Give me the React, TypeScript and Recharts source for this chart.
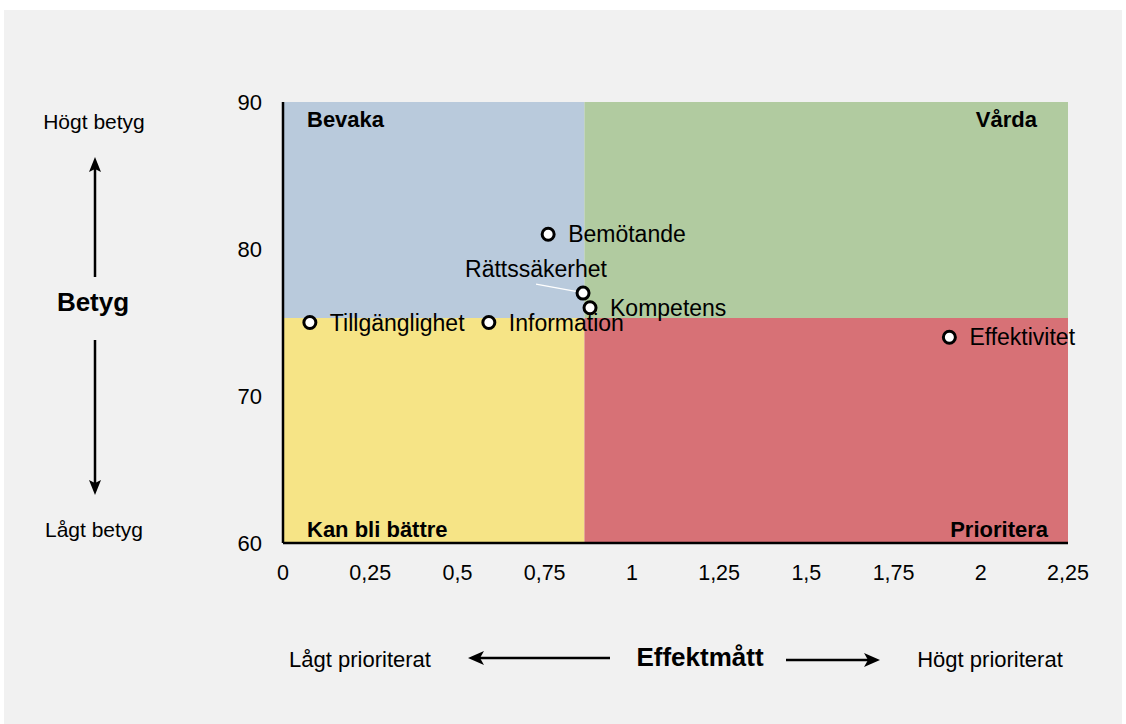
import React from 'react';
import {
  ScatterChart,
  Scatter,
  XAxis,
  YAxis,
  ReferenceArea,
} from 'recharts';

// Points: effect measure (x) vs grade (y)
const pointNames = ['Bemötande', 'Rättssäkerhet', 'Kompetens', 'Tillgänglighet', 'Information', 'Effektivitet'];
const effektValues = [0.76, 0.86, 0.88, 0.077, 0.59, 1.91];
const betygValues = [81, 77, 76, 75, 75, 74];

const xTicks = [0, 0.25, 0.5, 0.75, 1, 1.25, 1.5, 1.75, 2, 2.25];
const yTicks = [60, 70, 80, 90];

// quadrant split
const xSplit = 0.864;
const ySplit = 75.3;
const quadrantNames = ['Bevaka', 'Vårda', 'Kan bli bättre', 'Prioritera'];

const FONT = '"Liberation Sans", Arial, Helvetica, sans-serif';

const data = pointNames.map((name, i) => ({
  name,
  effekt: effektValues[i],
  betyg: betygValues[i],
}));

function QuadrantLabel(props: any) {
  const { viewBox, text, corner } = props;
  if (!viewBox) return null;
  const { x, y, width, height } = viewBox;
  let tx = x + 24;
  let ty = y + 25;
  let anchor: 'start' | 'end' = 'start';
  if (corner === 'tr') {
    tx = x + width - 31;
    anchor = 'end';
  } else if (corner === 'bl') {
    ty = y + height - 6;
  } else if (corner === 'br') {
    tx = x + width - 20;
    ty = y + height - 6;
    anchor = 'end';
  }
  return (
    <text x={tx} y={ty} textAnchor={anchor} fontFamily={FONT} fontSize={22} fontWeight="bold" fill="#000">
      {text}
    </text>
  );
}

function renderPoint(props: any) {
  const { cx, cy, payload } = props;
  const name = payload.name;
  return (
    <g>
      {name === 'Rättssäkerhet' ? (
        <g>
          <line x1={cx - 47} y1={cy - 9} x2={cx - 6} y2={cy - 1.5} stroke="#fff" strokeWidth={1.2} />
          <text x={cx - 47} y={cy - 24} dy="0.35em" textAnchor="middle" fontFamily={FONT} fontSize={23} fill="#000">
            {name}
          </text>
        </g>
      ) : (
        <text x={cx + 20} y={cy} dy="0.35em" fontFamily={FONT} fontSize={23} fill="#000">
          {name}
        </text>
      )}
      <circle cx={cx} cy={cy} r={6} fill="#fff" stroke="#000" strokeWidth={3} />
    </g>
  );
}

const fmt = (v: number) => String(v).replace('.', ',');

export default function App() {
  return (
    <div style={{ position: 'absolute', left: 0, top: 0, width: 1126, height: 724, background: '#fff', fontFamily: FONT }}>
      <div style={{ position: 'absolute', left: 4, top: 10, width: 1118, height: 714, background: '#f1f1f1' }} />
      <div style={{ position: 'absolute', left: 0, top: 0 }}>
        <ScatterChart width={1126} height={724} margin={{ top: 102, right: 58, left: 223, bottom: 151 }}>
          <XAxis
            type="number"
            dataKey="effekt"
            domain={[0, 2.25]}
            ticks={xTicks}
            tickFormatter={fmt}
            height={30}
            tickLine={false}
            tickSize={0}
            tickMargin={22}
            axisLine={{ stroke: '#000', strokeWidth: 2.5 }}
            tick={{ fill: '#000', fontSize: 21.5, fontFamily: FONT }}
          />
          <YAxis
            type="number"
            dataKey="betyg"
            domain={[60, 90]}
            ticks={yTicks}
            width={60}
            tickLine={false}
            tickSize={0}
            tickMargin={21}
            axisLine={{ stroke: '#000', strokeWidth: 2.5 }}
            tick={{ fill: '#000', fontSize: 22, fontFamily: FONT }}
          />
          <ReferenceArea x1={0} x2={xSplit} y1={ySplit} y2={90} fill="#b9cadc" fillOpacity={1} stroke="none"
            label={<QuadrantLabel text={quadrantNames[0]} corner="tl" />} />
          <ReferenceArea x1={xSplit} x2={2.25} y1={ySplit} y2={90} fill="#b1cba0" fillOpacity={1} stroke="none"
            label={<QuadrantLabel text={quadrantNames[1]} corner="tr" />} />
          <ReferenceArea x1={0} x2={xSplit} y1={60} y2={ySplit} fill="#f6e486" fillOpacity={1} stroke="none"
            label={<QuadrantLabel text={quadrantNames[2]} corner="bl" />} />
          <ReferenceArea x1={xSplit} x2={2.25} y1={60} y2={ySplit} fill="#d77176" fillOpacity={1} stroke="none"
            label={<QuadrantLabel text={quadrantNames[3]} corner="br" />} />
          <Scatter data={data} shape={renderPoint} isAnimationActive={false} />
        </ScatterChart>
      </div>
      <svg width={1126} height={724} style={{ position: 'absolute', left: 0, top: 0, pointerEvents: 'none' }}>
        {/* vertical guide: Betyg */}
        <text x={94} y={129} textAnchor="middle" fontFamily={FONT} fontSize={21} fill="#000">Högt betyg</text>
        <line x1={95} y1={168} x2={95} y2={277} stroke="#000" strokeWidth={2.5} />
        <path d="M95 157 L101 172 L95 169 L89 172 Z" fill="#000" />
        <text x={93} y={311} textAnchor="middle" fontFamily={FONT} fontSize={26} fontWeight="bold" fill="#000">Betyg</text>
        <line x1={95} y1={340} x2={95} y2={484} stroke="#000" strokeWidth={2.5} />
        <path d="M95 495 L101 480 L95 483 L89 480 Z" fill="#000" />
        <text x={94} y={537} textAnchor="middle" fontFamily={FONT} fontSize={21} fill="#000">Lågt betyg</text>

        {/* horizontal guide: Effektmått */}
        <text x={360} y={667} textAnchor="middle" fontFamily={FONT} fontSize={22} fill="#000">Lågt prioriterat</text>
        <line x1={480} y1={658} x2={610} y2={658} stroke="#000" strokeWidth={2.5} />
        <path d="M468 658 L484 651 L480 658 L484 665 Z" fill="#000" />
        <text x={700} y={666} textAnchor="middle" fontFamily={FONT} fontSize={26} fontWeight="bold" fill="#000">Effektmått</text>
        <line x1={786} y1={660} x2={868} y2={660} stroke="#000" strokeWidth={2.5} />
        <path d="M880 660 L864 653 L868 660 L864 667 Z" fill="#000" />
        <text x={990} y={667} textAnchor="middle" fontFamily={FONT} fontSize={22} fill="#000">Högt prioriterat</text>
      </svg>
    </div>
  );
}
